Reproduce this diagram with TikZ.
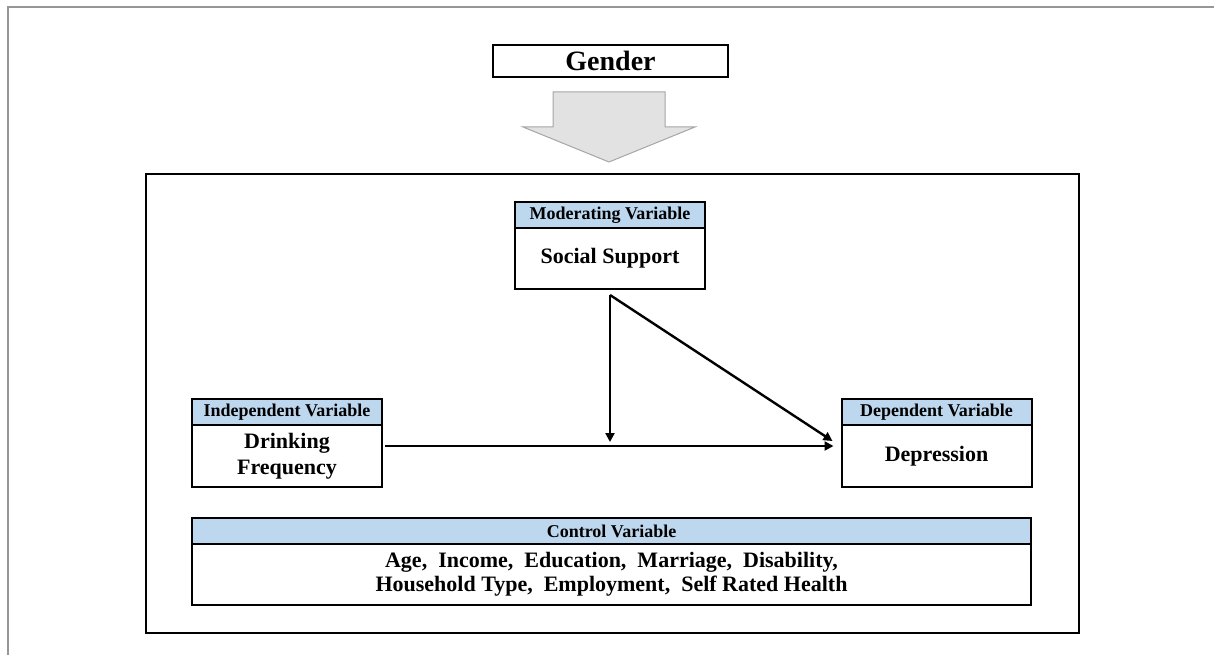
\documentclass[tikz,border=0pt]{standalone}
\usepackage{fontspec}
\setmainfont{Liberation Serif}
\usetikzlibrary{positioning,arrows.meta}
\definecolor{headblue}{RGB}{189,215,238}
\definecolor{arrowgray}{RGB}{226,226,226}
\definecolor{framegray}{RGB}{150,150,150}

\begin{document}
\begin{tikzpicture}
  [x=1pt,y=-1pt,
    every node/.style={inner sep=0pt,outer sep=0pt},
    head/.style={draw,line width=2pt,fill=headblue,minimum width=190pt,minimum height=26pt,font=\fontsize{18}{20}\selectfont\bfseries},
    body/.style={draw,line width=2pt,fill=white,minimum width=190pt,minimum height=62pt,align=center,font=\fontsize{22}{26}\selectfont\bfseries},
    link/.style={line width=2.4pt,-{Triangle[length=9pt,width=9pt]}},
  ]
  \useasboundingbox (0,0) rectangle (1214,655);
  \draw[framegray,line width=1.5pt] (8,655) -- (8,7) -- (1214,7);
  \node[draw,line width=2pt,minimum width=235pt,minimum height=32pt,font=\fontsize{28}{30}\selectfont\bfseries] (gender) at (610.5,61) {Gender};
  \draw[fill=arrowgray,draw=gray!70,line width=1pt] (553,92) -- (665,92) -- (665,127) -- (695,127) -- (609,162) -- (523,127) -- (553,127) -- cycle;
  \draw[line width=2pt] (146,174) rectangle (1079,633);
  \node[head] (modhead) at (610,215) {Moderating Variable};
  \node[body,minimum height=61pt,below=0pt of modhead] (mod) {Social Support};
  \node[head] (indhead) at (287,412) {Independent Variable};
  \node[body,below=0pt of indhead] (ind) {Drinking\\Frequency};
  \node[head] (dephead) at (936.5,412) {Dependent Variable};
  \node[body,below=0pt of dephead] (dep) {Depression};
  \node[head,minimum width=839pt] (ctrlhead) at (611.5,531) {Control Variable};
  \node[body,minimum width=839pt,minimum height=61pt,font=\fontsize{22}{24}\selectfont\bfseries,below=0pt of ctrlhead] (ctrl)
    {Age,\ \ Income,\ \ Education,\ \ Marriage,\ \ Disability,\\Household Type,\ \ Employment,\ \ Self Rated Health};
  \coordinate[below=6pt of mod] (apex);
  \coordinate (hstart) at ([xshift=3pt,yshift=10pt]ind.east);
  \coordinate (hit) at (apex |- hstart);
  \draw[link] (hstart) -- ([xshift=-8pt,yshift=10pt]dep.west);
  \draw[link] (apex) -- ([yshift=4pt]hit);
  \draw[link] (apex) -- ([xshift=-9pt,yshift=15pt]dep.west);
\end{tikzpicture}
\end{document}
